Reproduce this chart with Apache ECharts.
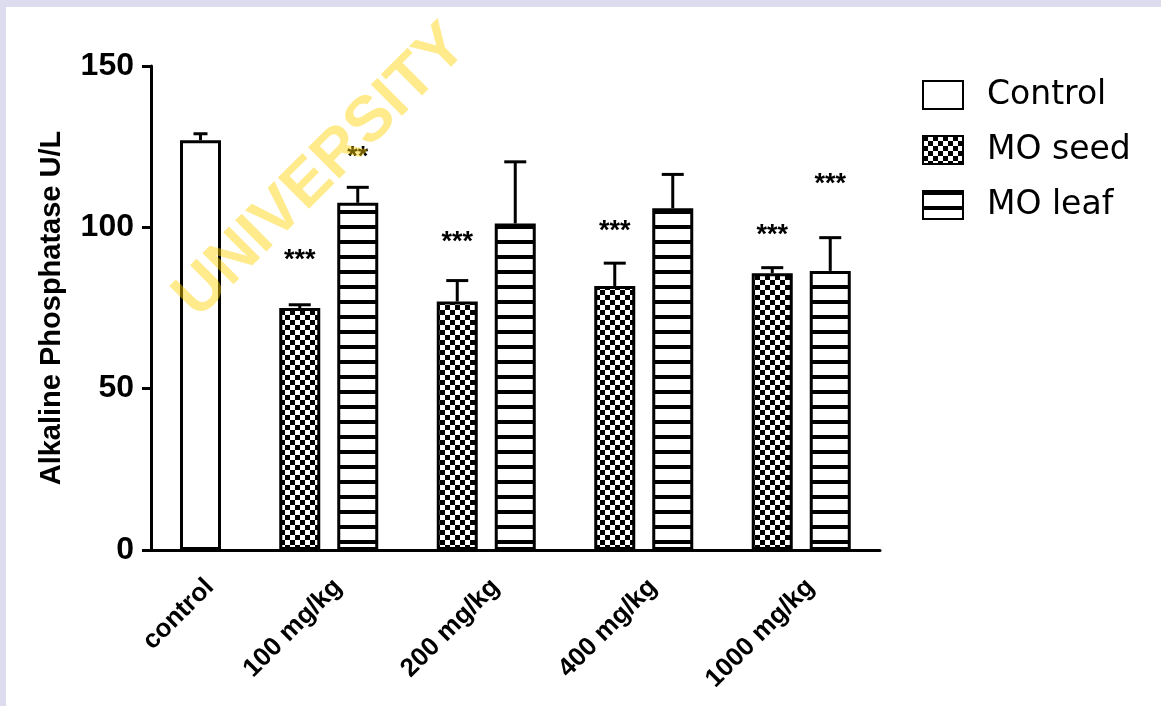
<!DOCTYPE html>
<html>
<head>
<meta charset="utf-8">
<script src="https://cdn.jsdelivr.net/npm/echarts@6/dist/echarts.min.js"></script>
<style>
html,body{margin:0;padding:0;background:#fff;}
#chart{width:1161px;height:706px;}
</style>
</head>
<body>
<div id="chart"></div>
<script>
// ---- data ----
const controlCategories = ['control'];
const doseCategories = ['100 mg/kg', '200 mg/kg', '400 mg/kg', '1000 mg/kg'];
const controlMean = [127];
const controlSem = [2];
const seedMean = [75.0, 77.0, 81.8, 85.8];
const seedSem = [1.0, 6.5, 7.1, 1.7];
const leafMean = [107.6, 101.2, 105.9, 86.5];
const leafSem = [4.8, 19.1, 10.5, 10.3];
const seedSig = ['***', '***', '***', '***'];
const seedSigLevel = [91.3, 96.9, 100.3, 99.1];
const leafSig = ['**', '', '', '***'];
const leafSigLevel = [123.3, 0, 0, 114.9];
const yTicks = [0, 50, 100, 150];
const seriesNames = ['Control', 'MO seed', 'MO leaf'];

// ---- patterns ----
function checker() {
  const c = document.createElement('canvas');
  c.width = 10; c.height = 10;
  const g = c.getContext('2d');
  g.fillStyle = '#fff'; g.fillRect(0, 0, 10, 10);
  g.fillStyle = '#000'; g.fillRect(0, 0, 5, 5); g.fillRect(5, 5, 5, 5);
  return c;
}
function stripes() {
  const c = document.createElement('canvas');
  c.width = 10; c.height = 15;
  const g = c.getContext('2d');
  g.fillStyle = '#fff'; g.fillRect(0, 0, 10, 15);
  g.fillStyle = '#000'; g.fillRect(0, 0, 10, 4);
  return c;
}

const BAR_W = 41;
const GAP = 17;
const OFF = (BAR_W + GAP) / 2;
const FONT = "'Liberation Sans', Arial, sans-serif";

function errSeries(name, xi, means, sems, offset, cap) {
  return {
    type: 'custom', name: name + ' err', xAxisIndex: xi, yAxisIndex: xi, z: 3,
    data: means.map((m, i) => [i, m + sems[i], m]),
    renderItem: function (params, api) {
      const i = api.value(0);
      const top = api.coord([i, api.value(1)]);
      const base = api.coord([i, api.value(2)]);
      const x = top[0] + offset;
      return {
        type: 'group', children: [
          { type: 'line', shape: { x1: x, y1: base[1], x2: x, y2: top[1] }, style: { stroke: '#000', lineWidth: 3 } },
          { type: 'line', shape: { x1: x - cap / 2, y1: top[1], x2: x + cap / 2, y2: top[1] }, style: { stroke: '#000', lineWidth: 3 } }
        ]
      };
    }
  };
}
function sigSeries(name, sig, level, offset) {
  return {
    type: 'custom', name: name + ' sig', xAxisIndex: 1, yAxisIndex: 1, z: 4,
    data: level.map((v, i) => [i, v]),
    renderItem: function (params, api) {
      const i = api.value(0);
      const txt = sig[i];
      if (!txt) return null;
      const p = api.coord([i, api.value(1)]);
      return {
        type: 'text', x: p[0] + offset, y: p[1] + 5,
        style: { text: txt, font: 'bold 27px ' + FONT, fill: '#000', align: 'center', verticalAlign: 'middle' }
      };
    }
  };
}

const axisLineStyle = { color: '#000', width: 3 };
const xLabel = { rotate: 45, color: '#000', fontFamily: FONT, fontWeight: 'bold', fontSize: 26,
  align: 'right', verticalAlign: 'top', lineHeight: 26, margin: 24, interval: 0 };

const chart = echarts.init(document.getElementById('chart'), null, { renderer: 'canvas' });
chart.setOption({
  animation: false,
  backgroundColor: '#fff',
  graphic: [
    { type: 'rect', z: 0, shape: { x: 0, y: 0, width: 1161, height: 7 }, style: { fill: '#dcdcee' } },
    { type: 'rect', z: 0, shape: { x: 0, y: 0, width: 6, height: 706 }, style: { fill: '#dcdcee' } },
    { type: 'text', z: 100, x: 208, y: 330, rotation: Math.PI / 4,
      style: { text: 'UNIVERSITY', font: 'bold 64px ' + FONT, fill: 'rgba(255,208,0,0.45)', align: 'left', verticalAlign: 'bottom' } }
  ],
  grid: [
    { left: 151, width: 99, top: 66, bottom: 156 },
    { left: 250, width: 630, top: 66, bottom: 156 }
  ],
  legend: {
    data: seriesNames, orient: 'vertical', left: 917, top: 73,
    itemWidth: 40, itemHeight: 28, itemGap: 21, icon: 'rect',
    textStyle: { color: '#000', fontFamily: "'DejaVu Sans', sans-serif", fontSize: 33, lineHeight: 34, padding: [0, 0, 0, 19] }
  },
  xAxis: [
    { type: 'category', gridIndex: 0, data: controlCategories,
      axisLine: { lineStyle: axisLineStyle }, axisTick: { alignWithLabel: true, length: 10, lineStyle: axisLineStyle },
      axisLabel: xLabel, splitLine: { show: false } },
    { type: 'category', gridIndex: 1, data: doseCategories,
      axisLine: { lineStyle: axisLineStyle }, axisTick: { alignWithLabel: true, length: 10, lineStyle: axisLineStyle },
      axisLabel: xLabel, splitLine: { show: false } }
  ],
  yAxis: [
    { type: 'value', gridIndex: 0, min: yTicks[0], max: yTicks[yTicks.length - 1], interval: yTicks[1] - yTicks[0],
      name: 'Alkaline Phosphatase U/L', nameLocation: 'middle', nameGap: 85,
      nameTextStyle: { color: '#000', fontFamily: FONT, fontWeight: 'bold', fontSize: 29 },
      axisLine: { show: true, lineStyle: axisLineStyle }, axisTick: { show: true, length: 9, lineStyle: axisLineStyle },
      axisLabel: { color: '#000', fontFamily: FONT, fontWeight: 'bold', fontSize: 32, margin: 17 },
      splitLine: { show: false } },
    { type: 'value', gridIndex: 1, min: yTicks[0], max: yTicks[yTicks.length - 1], interval: yTicks[1] - yTicks[0], show: false,
      splitLine: { show: false } }
  ],
  series: [
    { name: seriesNames[0], type: 'bar', xAxisIndex: 0, yAxisIndex: 0, data: controlMean, barWidth: BAR_W,
      itemStyle: { color: '#fff', borderColor: '#000', borderWidth: 3 } },
    { name: seriesNames[1], type: 'bar', xAxisIndex: 1, yAxisIndex: 1, data: seedMean, barWidth: BAR_W, barGap: (GAP / BAR_W * 100) + '%',
      itemStyle: { color: { image: checker(), repeat: 'repeat' }, borderColor: '#000', borderWidth: 3 } },
    { name: seriesNames[2], type: 'bar', xAxisIndex: 1, yAxisIndex: 1, data: leafMean, barWidth: BAR_W, barGap: (GAP / BAR_W * 100) + '%',
      itemStyle: { color: { image: stripes(), repeat: 'repeat' }, borderColor: '#000', borderWidth: 3 } },
    errSeries('control', 0, controlMean, controlSem, 0, 14),
    errSeries('seed', 1, seedMean, seedSem, -OFF, 22),
    errSeries('leaf', 1, leafMean, leafSem, OFF, 22),
    sigSeries('seed', seedSig, seedSigLevel, -OFF),
    sigSeries('leaf', leafSig, leafSigLevel, OFF)
  ]
});
</script>
</body>
</html>
